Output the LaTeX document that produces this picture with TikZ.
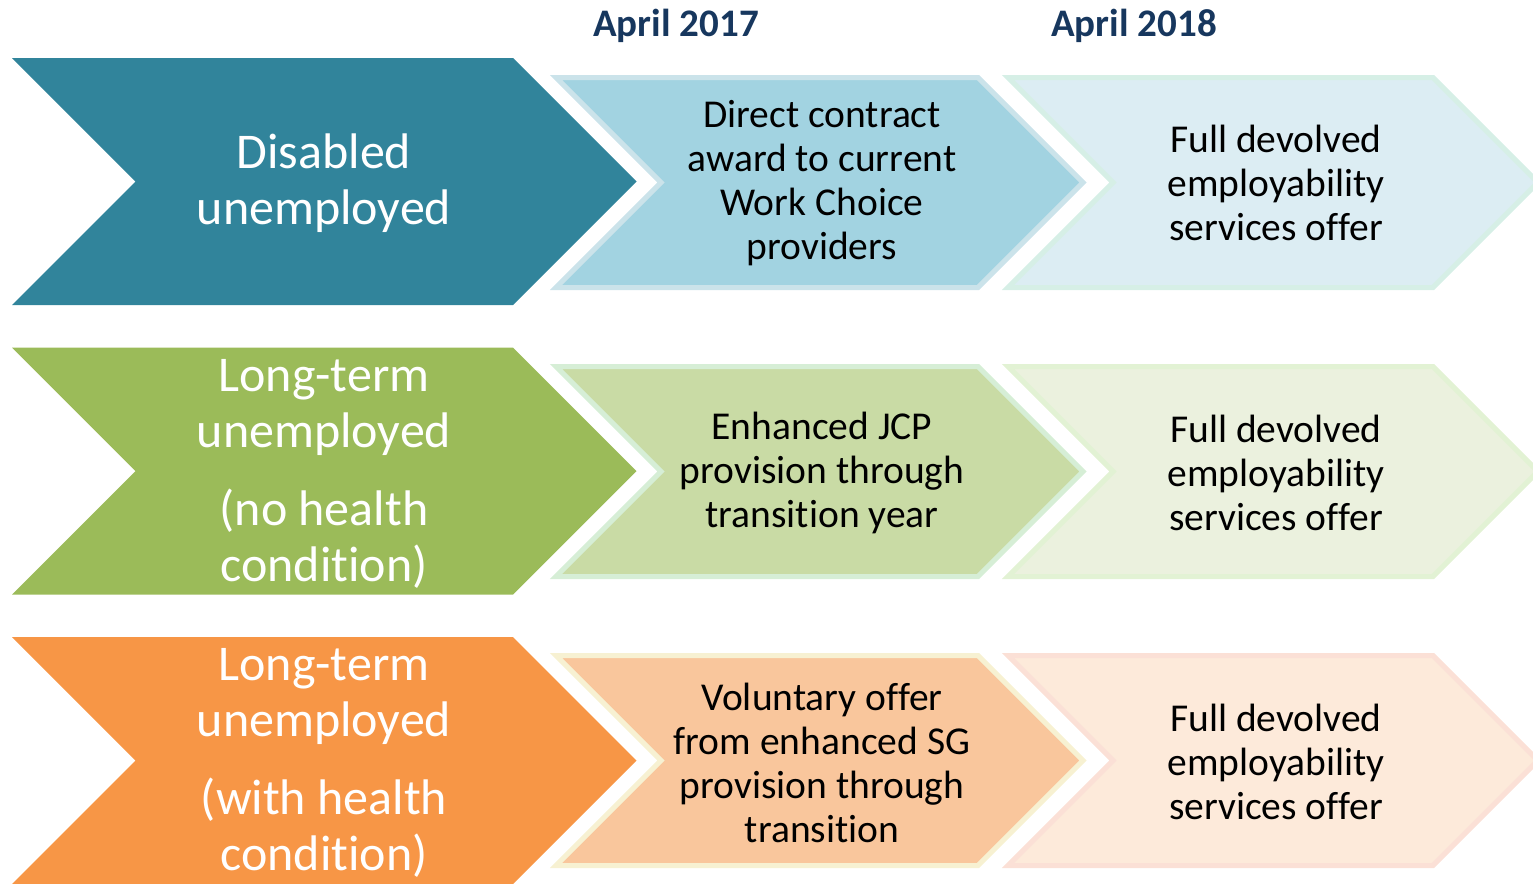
\documentclass[tikz,border=0pt]{standalone}
\usepackage{fontspec}
\setmainfont{Carlito}[Ligatures=NoCommon]
\usepackage{xcolor}
\usepackage{tikz}

\definecolor{tealgroup}{HTML}{31849B}
\definecolor{tealmid}{HTML}{A2D3E1}
\definecolor{tealmidrim}{HTML}{CBE3EA}
\definecolor{teallight}{HTML}{DCEDF3}
\definecolor{teallightrim}{HTML}{D6EFE6}
\definecolor{greengroup}{HTML}{9BBB59}
\definecolor{greenmid}{HTML}{C9DBA5}
\definecolor{greenmidrim}{HTML}{D6EED6}
\definecolor{greenlight}{HTML}{EBF1DE}
\definecolor{greenlightrim}{HTML}{E2F2D4}
\definecolor{orangegroup}{HTML}{F79646}
\definecolor{orangemid}{HTML}{F9C69C}
\definecolor{orangemidrim}{HTML}{F7F1D2}
\definecolor{orangelight}{HTML}{FDEADA}
\definecolor{orangelightrim}{HTML}{FBE0D6}
\definecolor{datenavy}{HTML}{17375E}

\begin{document}
\begin{tikzpicture}[x=0.5pt, y=-0.5pt,
  groupchev/.style={fill=#1, draw=none},
  stagechev/.style 2 args={fill=#1, draw=#2, line width=2.5pt, line join=miter},
  grouplabel/.style={text=white, align=center, font=\fontsize{25}{28}\selectfont},
  stagelabel/.style={text=black, align=center, font=\fontsize{19.75}{22}\selectfont},
  datelabel/.style={text=datenavy, font=\bfseries\fontsize{19.5}{23}\selectfont}]
  \useasboundingbox (0,0) rectangle (1533,884);
  % row 1
  \draw[groupchev=tealgroup] (12,58) -- (513,58) -- (636.5,181.5) -- (513,305) -- (12,305) -- (135.5,181.5) -- cycle;
  \draw[stagechev={tealmid}{tealmidrim}] (556,77.5) -- (978,77.5) -- (1083,182.5) -- (978,287.5) -- (556,287.5) -- (661,182.5) -- cycle;
  \draw[stagechev={teallight}{teallightrim}] (1008,77.5) -- (1433,77.5) -- (1538,182.5) -- (1433,287.5) -- (1008,287.5) -- (1113,182.5) -- cycle;
  % row 2
  \draw[groupchev=greengroup] (12,347.5) -- (513,347.5) -- (636.5,471) -- (513,594.5) -- (12,594.5) -- (135.5,471) -- cycle;
  \draw[stagechev={greenmid}{greenmidrim}] (556,366.5) -- (978,366.5) -- (1083,471.5) -- (978,576.5) -- (556,576.5) -- (661,471.5) -- cycle;
  \draw[stagechev={greenlight}{greenlightrim}] (1008,366.5) -- (1433,366.5) -- (1538,471.5) -- (1433,576.5) -- (1008,576.5) -- (1113,471.5) -- cycle;
  % row 3
  \draw[groupchev=orangegroup] (12,637) -- (513,637) -- (636.5,760.5) -- (513,884) -- (12,884) -- (135.5,760.5) -- cycle;
  \draw[stagechev={orangemid}{orangemidrim}] (556,655.5) -- (978,655.5) -- (1083,760.5) -- (978,865.5) -- (556,865.5) -- (661,760.5) -- cycle;
  \draw[stagechev={orangelight}{orangelightrim}] (1008,655.5) -- (1433,655.5) -- (1538,760.5) -- (1433,865.5) -- (1008,865.5) -- (1113,760.5) -- cycle;
  % dates
  \node[datelabel] (apr17) at (676,26) {April 2017};
  \node[datelabel] (apr18) at (1134,26) {April 2018};
  % labels
  \node[grouplabel] (grp1) at (324,183.5) {Disabled\\unemployed};
  \node[grouplabel] (grp2) at (324,473.5) {Long-term\\unemployed\\[11pt](no health\\condition)};
  \node[grouplabel] (grp3) at (324,762.5) {Long-term\\unemployed\\[11pt](with health\\condition)};
  \node[stagelabel] (now1) at (822,183) {Direct contract\\award to current\\Work Choice\\providers};
  \node[stagelabel] (now2) at (822,473) {Enhanced JCP\\provision through\\transition year};
  \node[stagelabel] (now3) at (822,763) {Voluntary offer\\from enhanced SG\\provision through\\transition};
  \node[stagelabel] (full1) at (1276,183) {Full devolved\\employability\\services offer};
  \node[stagelabel] (full2) at (1276,473) {Full devolved\\employability\\services offer};
  \node[stagelabel] (full3) at (1276,762) {Full devolved\\employability\\services offer};
\end{tikzpicture}
\end{document}
